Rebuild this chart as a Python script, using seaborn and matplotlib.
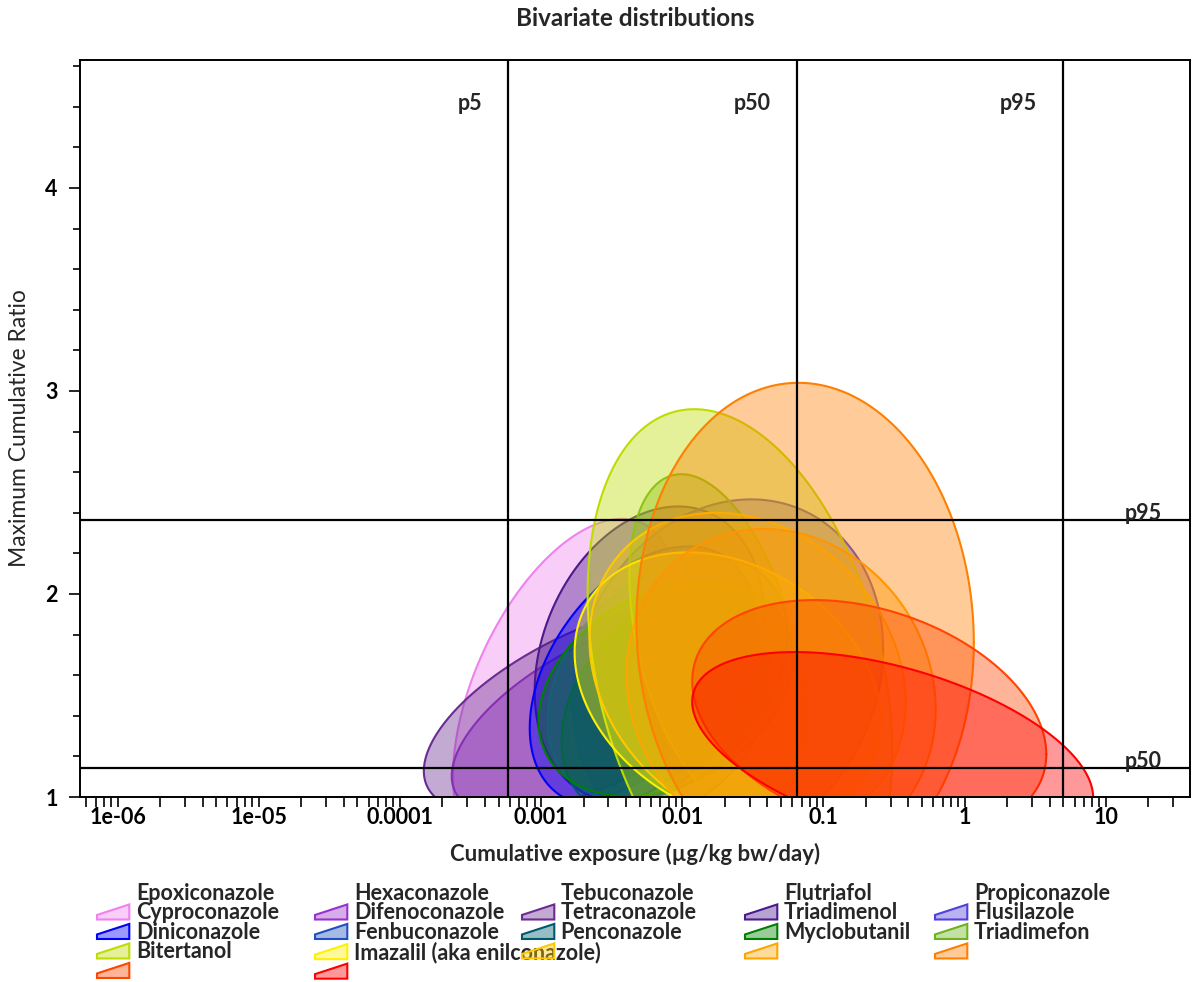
import numpy as np
import pandas as pd
import matplotlib
matplotlib.use("Agg")
import matplotlib.pyplot as plt
import seaborn as sns
from matplotlib.patches import Polygon, Patch
from matplotlib.legend_handler import HandlerPatch
from matplotlib.ticker import FixedLocator, LogLocator, NullFormatter
from matplotlib.colors import to_rgba

# ---------------- data ----------------
substances = ["Epoxiconazole", "Hexaconazole", "Tebuconazole", "Flutriafol", "Propiconazole",
              "Cyproconazole", "Difenoconazole", "Tetraconazole", "Triadimenol", "Flusilazole",
              "Diniconazole", "Fenbuconazole", "Penconazole", "Myclobutanil", "Triadimefon",
              "Bitertanol", "Imazalil (aka enilconazole)"]
colors = ["#EE82EE", "#9932CC", "#6A2C91", "#4B1A8C", "#5040DC",
          "#0000FF", "#2050C0", "#005A6E", "#008000", "#6DB31E",
          "#BEDC00", "#FFF000", "#FFC800", "#FFA500", "#FF7F00",
          "#FF4500", "#FF0000"]

# bivariate contour of each substance: centre (exposure ug/kg bw/day, MCR),
# half-width in decades of exposure, half-height in MCR, correlation
center_exposure = [1.49e-3, 2.93e-3, 2.34e-3, 5.85e-3, 0.0210, 5.24e-3, 7.87e-3, 7.85e-3, 7.62e-3,
                   0.0173, 0.0256, 0.0210, 0.0290, 0.0501, 0.0741, 0.211, 0.309]
center_ratio = [1.525, 1.404, 1.44, 1.703, 1.60, 1.595, 1.584, 1.44, 1.532,
                1.75, 1.61, 1.54, 1.62, 1.52, 1.81, 1.39, 1.234]
spread_log_exposure = [0.797, 1.1, 1.2, 0.813, 1.1, 0.8, 0.85, 0.75, 0.9,
                       0.613, 1.079, 1.085, 1.12, 1.095, 1.195, 1.254, 1.42]
spread_ratio = [0.845, 0.502, 0.52, 0.728, 0.866, 0.639, 0.60, 0.55, 0.528,
                0.84, 1.30, 0.665, 0.78, 0.80, 1.23, 0.58, 0.48]
correlation = [0.5, 0.6, 0.6, 0.25, 0.15, 0.4, 0.35, 0.3, 0.3,
               -0.4, -0.3, -0.26, -0.2, -0.11, -0.04, -0.31, -0.49]

exposure_pct_labels = ["p5", "p50", "p95"]
exposure_pcts = [5.83e-4, 0.0649, 4.95]
ratio_pct_labels = ["p50", "p95"]
ratio_pcts = [1.1426, 2.3625]

x_tick_values = [1e-6, 1e-5, 1e-4, 1e-3, 1e-2, 1e-1, 1, 10]
x_tick_labels = ["1e-06", "1e-05", "0.0001", "0.001", "0.01", "0.1", "1", "10"]
y_tick_values = [1, 2, 3, 4]
y_tick_labels = ["1", "2", "3", "4"]

# ---------------- style ----------------
sns.set_style("white")
plt.rcParams["font.family"] = ["Lato", "DejaVu Sans"]
plt.rcParams["font.weight"] = "bold"
FS = 15.5

W, H = 1192, 982
fig = plt.figure(figsize=(W / 100, H / 100), dpi=100)
ax = fig.add_axes([80 / W, 185 / H, 1110 / W, 737 / H])
ax.set_xscale("log")
ax.set_xlim(10 ** -6.266, 10 ** 1.596)
ax.set_ylim(1.0, 4.63)


def contour(i, n=500):
    t = np.linspace(0, 2 * np.pi, n)
    r = correlation[i]
    L = np.log10(center_exposure[i]) + spread_log_exposure[i] * np.cos(t)
    Y = center_ratio[i] + spread_ratio[i] * (r * np.cos(t) + np.sqrt(1 - r ** 2) * np.sin(t))
    return 10 ** L, Y


for i, name in enumerate(substances):
    X, Y = contour(i)
    df = pd.DataFrame({"exposure": X, "mcr": Y})
    ax.fill(df["exposure"], df["mcr"], facecolor=colors[i], alpha=0.4,
            edgecolor="none", zorder=1 + 0.02 * i)
    sns.lineplot(data=df, x="exposure", y="mcr", sort=False, estimator=None,
                 color=colors[i], lw=1.5, ax=ax, zorder=1.01 + 0.02 * i)

for xv in exposure_pcts:
    ax.axvline(xv, color="black", lw=1.6, zorder=5)
for yv in ratio_pcts:
    ax.axhline(yv, color="black", lw=1.6, zorder=5)

for lbl, xv in zip(exposure_pct_labels, exposure_pcts):
    ax.annotate(lbl, xy=(xv, 1), xycoords=("data", "axes fraction"),
                xytext=(-26, -50), textcoords="offset pixels",
                ha="right", va="baseline", fontsize=FS, fontweight="bold", zorder=6)
for lbl, yv in zip(ratio_pct_labels, ratio_pcts):
    ax.annotate(lbl, xy=(1, yv), xycoords=("axes fraction", "data"),
                xytext=(-28, 0), textcoords="offset pixels",
                ha="right", va="baseline", fontsize=FS, fontweight="bold", zorder=6)

# axes / ticks
ax.xaxis.set_major_locator(FixedLocator(x_tick_values))
ax.set_xticklabels(x_tick_labels)
ax.xaxis.set_minor_locator(LogLocator(base=10, subs=np.arange(2, 10), numticks=100))
ax.xaxis.set_minor_formatter(NullFormatter())
ax.yaxis.set_major_locator(FixedLocator(y_tick_values))
ax.set_yticklabels(y_tick_labels)
ax.yaxis.set_minor_locator(FixedLocator([v for v in np.round(np.arange(1.2, 4.61, 0.2), 1)
                                         if abs(v - round(v)) > 1e-6]))
ax.tick_params(axis="both", which="both", direction="out", bottom=True, left=True,
               top=False, right=False, colors="black", width=1.2, labelsize=FS)
ax.tick_params(axis="x", which="both", length=7, pad=0)
ax.tick_params(axis="y", which="major", length=8, pad=8)
ax.tick_params(axis="y", which="minor", length=5)
for lab in ax.get_xticklabels() + ax.get_yticklabels():
    lab.set_fontweight("bold")
for sp in ax.spines.values():
    sp.set_color("black")
    sp.set_linewidth(1.4)
    sp.set_visible(True)

ax.set_xlabel("Cumulative exposure (µg/kg bw/day)", fontsize=16, fontweight="bold")
ax.xaxis.set_label_coords(0.5, -0.062)
ax.xaxis.label.set_va("top")
ax.set_ylabel("Maximum Cumulative Ratio", fontsize=16.5, fontweight="normal")
ax.yaxis.set_label_coords(-0.045, 0.5)
ax.text(0.5, 1 + 42 / 737, "Bivariate distributions", transform=ax.transAxes,
        ha="center", va="center", fontsize=17.5, fontweight="bold")


# ---------------- legend ----------------
def wedge(legend, orig_handle, xdescent, ydescent, width, height, fontsize):
    x0, y0 = -xdescent, -ydescent
    return Polygon([[x0, y0], [x0 + width, y0], [x0 + width, y0 + height],
                    [x0, y0 + 0.3 * height]], closed=True)


handler = HandlerPatch(patch_func=wedge)
series_handles = [Patch(facecolor=to_rgba(c, 0.4), edgecolor=c, lw=1.5) for c in colors]
blank = Patch(facecolor="none", edgecolor="none")

ncol = 5
col_x = [97, 315, 522, 745, 935]
n = len(substances)
for c in range(ncol):
    idx_lab = list(range(c, n, ncol))
    rows = len(idx_lab) + 1
    hs, ls = [], []
    for r in range(rows):
        li = c + r * ncol
        hi = c + (r - 1) * ncol
        ls.append(substances[li] if li < n else "")
        hs.append(series_handles[hi] if (r >= 1 and hi < n) else blank)
    fig.legend(hs, ls, loc="upper left", bbox_to_anchor=(col_x[c] / W, 1 - 883 / H),
               frameon=False, borderaxespad=0, borderpad=0, handlelength=1.5,
               handleheight=0.7, handletextpad=0.3, labelspacing=-0.07,
               prop={"size": FS, "weight": "bold"}, handler_map={Patch: handler})

fig.savefig("out.png", dpi=100)
